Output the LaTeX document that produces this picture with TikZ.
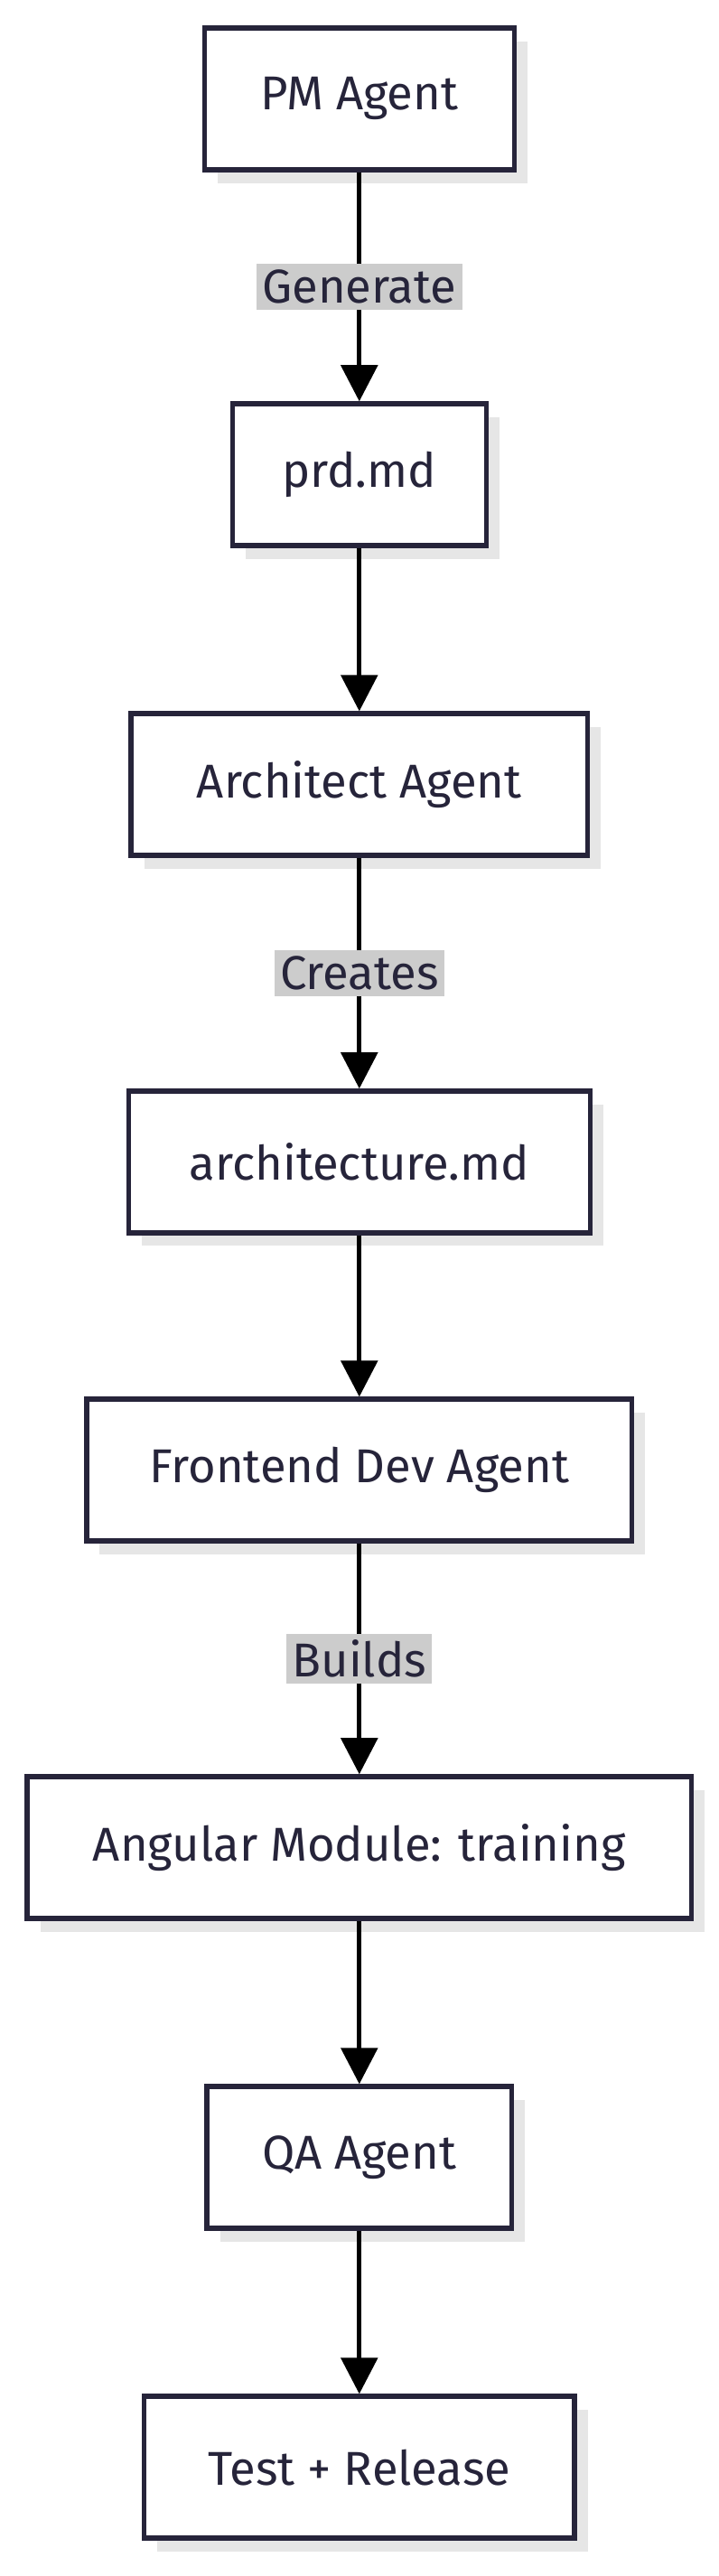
\documentclass[tikz,border=0pt]{standalone}
\usepackage{fontspec}
\setmainfont{Fira Sans}
\usetikzlibrary{positioning,arrows.meta,calc}
\definecolor{boxline}{HTML}{26243A}
\definecolor{shade}{HTML}{E6E6E6}
\definecolor{lblfill}{HTML}{CCCCCC}
\tikzset{
  agent/.style={draw=boxline, line width=4.2pt, fill=white, minimum height=4.3cm,
    font=\fontsize{41}{46}\selectfont, text=boxline,
    preaction={draw=none, fill=shade, transform canvas={xshift=0.4cm, yshift=-0.4cm}}},
  flow/.style={line width=4.2pt, -{Triangle[length=1.1cm, width=1.1cm]}},
  lbl/.style={fill=lblfill, text=boxline, font=\fontsize{41}{46}\selectfont, inner sep=5pt}
}
\begin{document}
\begin{tikzpicture}[x=0.05cm, y=-0.05cm]
    \useasboundingbox (0,0) rectangle (436,1563);
    %nodes
    \node[agent, minimum width=9.4cm] (pm) at (218,60) {PM Agent};
    \node[agent, minimum width=7.7cm] (prd) at (218,288) {prd.md};
    \node[agent, minimum width=13.85cm] (arch) at (218,476) {Architect Agent};
    \node[agent, minimum width=14cm] (archdoc) at (218,705) {architecture.md};
    \node[agent, minimum width=16.55cm] (fe) at (218,892) {Frontend Dev Agent};
    \node[agent, minimum width=20.15cm] (ng) at (218,1121) {Angular Module: training};
    \node[agent, minimum width=9.25cm] (qa) at (218,1309) {QA Agent};
    \node[agent, minimum width=13.05cm] (rel) at (218,1497) {Test + Release};
    %edges
    \draw[flow] (pm) -- node[lbl]{Generate} (prd);
    \draw[flow] (prd) -- (arch);
    \draw[flow] (arch) -- node[lbl]{Creates} (archdoc);
    \draw[flow] (archdoc) -- (fe);
    \draw[flow] (fe) -- node[lbl]{Builds} (ng);
    \draw[flow] (ng) -- (qa);
    \draw[flow] (qa) -- (rel);
\end{tikzpicture}
\end{document}
